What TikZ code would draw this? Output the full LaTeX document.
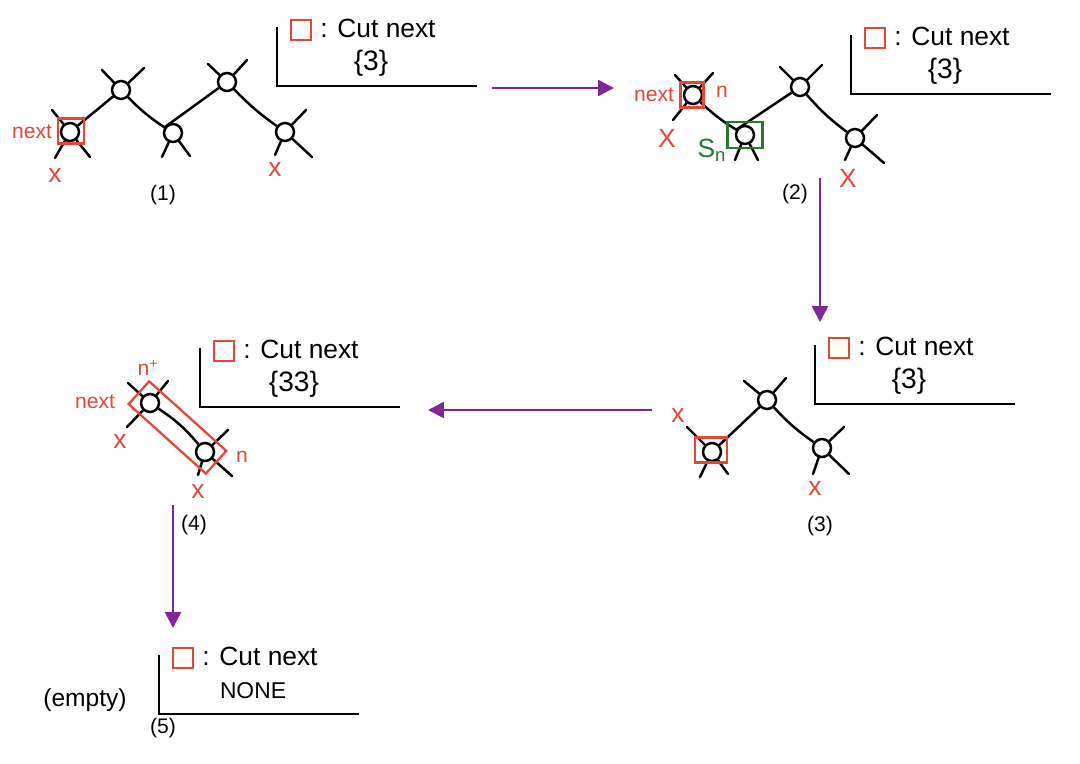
\documentclass[tikz,border=0pt]{standalone}
\usepackage{fontspec}
\setmainfont{Liberation Sans}
\usetikzlibrary{arrows.meta,fit}

\definecolor{cutred}{RGB}{226,72,52}
\definecolor{sgreen}{RGB}{40,120,52}
\definecolor{flowpurple}{RGB}{128,38,150}

\tikzset{
  vert/.style={circle, draw, line width=1.4pt, minimum size=0.36cm, inner sep=0pt},
  edge/.style={line width=1.4pt},
  leg/.style={line width=1.4pt, line cap=round},
  cutbox/.style={draw=cutred, line width=1.3pt, inner sep=0pt},
  greenbox/.style={draw=sgreen, line width=1.3pt, inner sep=0pt},
  redlbl/.style={text=cutred, font=\fontsize{12}{14}\selectfont, inner sep=0pt},
  xmark/.style={text=cutred, font=\fontsize{15}{17}\selectfont, inner sep=0pt},
  caption/.style={font=\fontsize{12}{14}\selectfont, inner sep=0pt},
  bar/.style={line width=1.4pt},
  keybox/.style={draw=cutred, line width=1.3pt, minimum size=0.4cm, inner sep=0pt},
  keytext/.style={font=\fontsize{15}{18}\selectfont, inner sep=0pt},
  settext/.style={font=\fontsize{16}{19}\selectfont, inner sep=0pt},
  flow/.style={->, draw=flowpurple, line width=1.5pt}
}

% legend: name, x, y of the top of the bar, content
\newcommand{\cutlegend}[4]{%
  \coordinate (#1top) at (#2,#3);
  \coordinate (#1end) at (#2+200,#3+59);
  \draw[bar] (#1top) |- (#1end);
  \node[keybox] (#1key) at (#2+24,#3+3) {};
  \node[keytext, anchor=west] (#1txt) at (#2+43,#3+1) {: Cut next};
  \node[settext] (#1set) at (#2+94,#3+36) {#4};
}

\begin{document}
\begin{tikzpicture}[x=0.02cm, y=-0.02cm, >={Triangle[length=9pt,width=9pt]}]
\useasboundingbox (0,0) rectangle (1080,764);

% (1)
\node[vert] (a1) at (70,132) {};
\node[vert] (a2) at (121,90) {};
\node[vert] (a3) at (173,133) {};
\node[vert] (a4) at (227,82) {};
\node[vert] (a5) at (285,132) {};
\draw[edge] (a1) -- (a2) to[bend right=6] (a3) -- (a4) to[bend right=5] (a5);
\draw[leg] (a1) -- ++(-18,-22);
\draw[leg] (a1) -- ++(-15,26);
\draw[leg] (a1) -- ++(20,25);
\draw[leg] (a2) -- ++(-19,-20);
\draw[leg] (a2) -- ++(23,-22);
\draw[leg] (a3) -- ++(-11,24);
\draw[leg] (a3) -- ++(17,23);
\draw[leg] (a4) -- ++(-19,-18);
\draw[leg] (a4) -- ++(20,-22);
\draw[leg] (a5) -- ++(21,-22);
\draw[leg] (a5) -- ++(-10,23);
\draw[leg] (a5) -- ++(27,25);
\node[cutbox, minimum width=0.52cm, minimum height=0.5cm] (a1box) at (71,131) {};
\node[redlbl] (a1next) at (32,132) {next};
\node[xmark] (a1x) at (55,176) {x};
\node[xmark] (a5x) at (275,170) {x};
\node[caption] (cap1) at (163,195) {(1)};
\cutlegend{l1}{277}{27}{\{3\}}

% (2)
\node[vert] (b1) at (693,95) {};
\node[vert] (b2) at (745,135) {};
\node[vert] (b3) at (800,87) {};
\node[vert] (b4) at (855,138) {};
\draw[edge] (b1) to[bend right=6] (b2) -- (b3) to[bend right=6] (b4);
\draw[leg] (b1) -- ++(-18,-20);
\draw[leg] (b1) -- ++(20,-22);
\draw[leg] (b1) -- ++(-20,25);
\draw[leg] (b2) -- ++(-10,25);
\draw[leg] (b2) -- ++(13,25);
\draw[leg] (b3) -- ++(-20,-20);
\draw[leg] (b3) -- ++(22,-22);
\draw[leg] (b4) -- ++(22,-23);
\draw[leg] (b4) -- ++(-10,22);
\draw[leg] (b4) -- ++(29,25);
\node[cutbox, minimum width=0.46cm, minimum height=0.5cm] (b1box) at (692,95) {};
\node[greenbox, minimum width=0.7cm, minimum height=0.52cm] (b2box) at (745,135) {};
\node[redlbl] (b1next) at (654,95) {next};
\node[redlbl] (b1n) at (722,92) {n};
\node[xmark] (b1x) at (667,138) {X};
\node[xmark] (b4x) at (848,178) {X};
\node[text=sgreen, font=\fontsize{15}{17}\selectfont, inner sep=0pt] (b2s) at (712,150) {S\textsubscript{n}};
\node[caption] (cap2) at (795,194) {(2)};
\cutlegend{l2}{851}{35}{\{3\}}

% (3)
\node[vert] (c1) at (712,452) {};
\node[vert] (c2) at (767,400) {};
\node[vert] (c3) at (822,448) {};
\draw[edge] (c1) -- (c2) to[bend right=6] (c3);
\draw[leg] (c1) -- ++(-25,-25);
\draw[leg] (c1) -- ++(-12,25);
\draw[leg] (c1) -- ++(16,22);
\draw[leg] (c2) -- ++(-23,-19);
\draw[leg] (c2) -- ++(19,-22);
\draw[leg] (c3) -- ++(22,-21);
\draw[leg] (c3) -- ++(-9,26);
\draw[leg] (c3) -- ++(27,26);
\node[cutbox, minimum width=0.64cm, minimum height=0.5cm] (c1box) at (711,450) {};
\node[xmark] (c1x) at (678,416) {x};
\node[xmark] (c3x) at (815,489) {x};
\node[caption] (cap3) at (820,526) {(3)};
\cutlegend{l3}{815}{345}{\{3\}}

% (4)
\node[vert] (d1) at (150,403) {};
\node[vert] (d2) at (205,452) {};
\draw[edge] (d1) to[bend left=8] (d2);
\draw[leg] (d1) -- ++(-22,-20);
\draw[leg] (d1) -- ++(18,-22);
\draw[leg] (d1) -- ++(-23,24);
\draw[leg] (d2) -- ++(23,-22);
\draw[leg] (d2) -- ++(-7,23);
\draw[leg] (d2) -- ++(27,24);
\node[cutbox, rotate fit=-42, fit=(d1)(d2), inner sep=0.15cm] (d12box) {};
\node[redlbl] (d1np) at (148,368) {n\textsuperscript{+}};
\node[redlbl] (d1next) at (95,402) {next};
\node[xmark] (d1x) at (120,442) {x};
\node[redlbl] (d2n) at (242,457) {n};
\node[xmark] (d2x) at (198,492) {x};
\node[caption] (cap4) at (194,525) {(4)};
\cutlegend{l4}{200}{348}{\{33\}}

% (5)
\node[font=\fontsize{14}{16}\selectfont, inner sep=0pt] (empty) at (85,700) {(empty)};
\node[caption] (cap5) at (163,728) {(5)};
\cutlegend{l5}{159}{655}{\fontsize{13}{15}\selectfont NONE}

% steps
\coordinate (f1s) at (492,88);
\coordinate (f1e) at (614,88);
\coordinate (f2s) at (820,178);
\coordinate (f2e) at (820,322);
\coordinate (f3s) at (652,410);
\coordinate (f3e) at (428,410);
\coordinate (f4s) at (173,505);
\coordinate (f4e) at (173,628);
\draw[flow] (f1s) -- (f1e);
\draw[flow] (f2s) -- (f2e);
\draw[flow] (f3s) -- (f3e);
\draw[flow] (f4s) -- (f4e);
\end{tikzpicture}
\end{document}
